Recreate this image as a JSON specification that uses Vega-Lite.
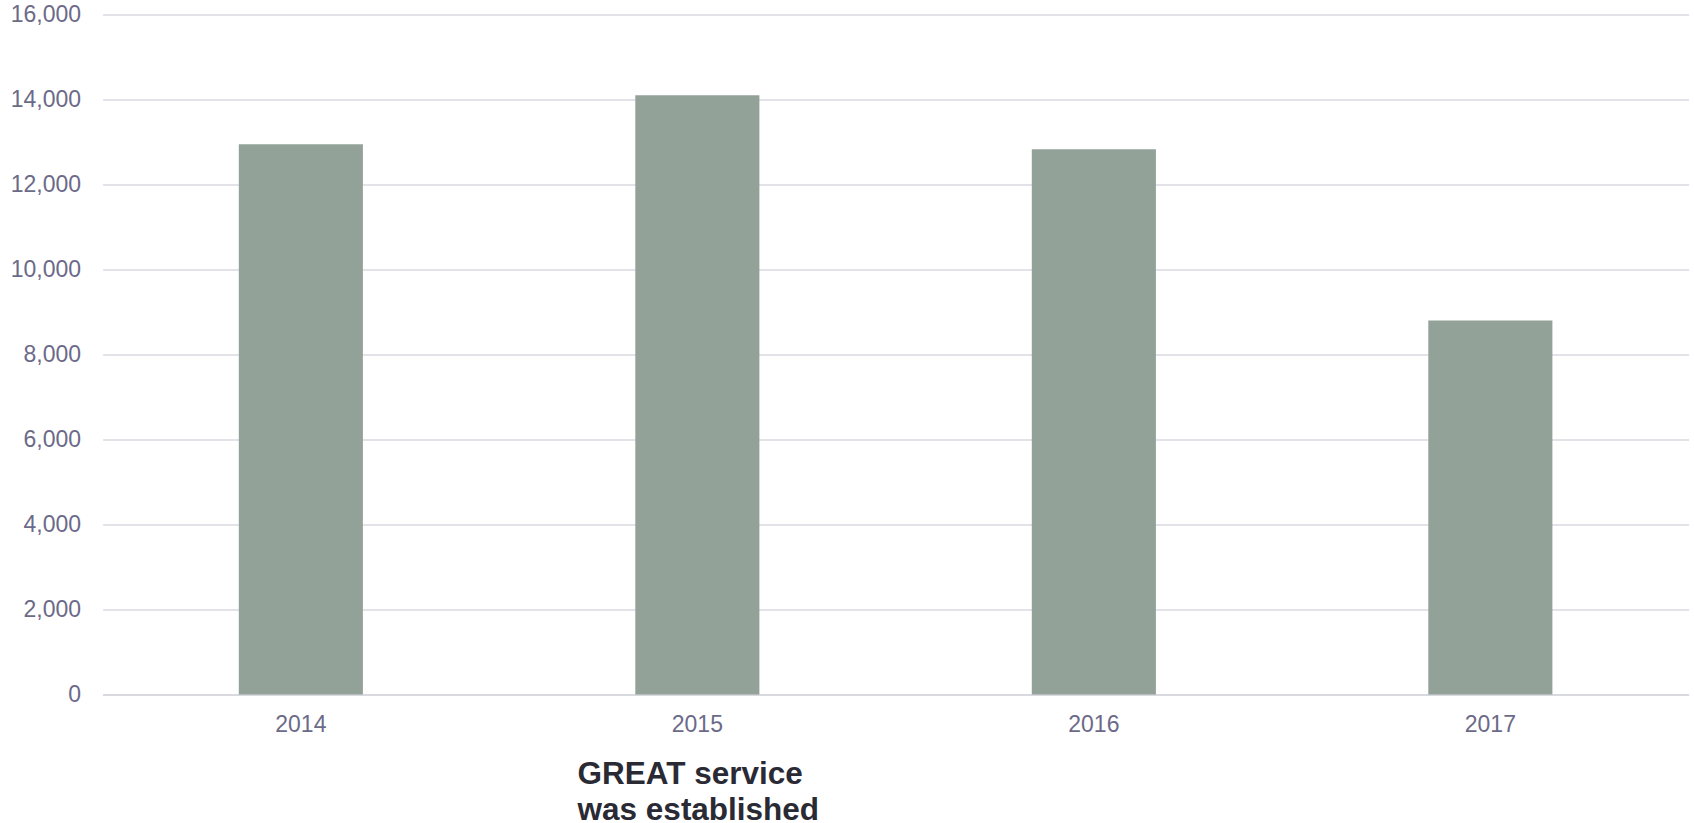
{
  "$schema": "https://vega.github.io/schema/vega-lite/v6.json",
  "autosize": {"type": "none"},
  "padding": {"left": 102.6, "top": 14.5, "right": 5, "bottom": 128},
  "width": 1586,
  "height": 680,
  "background": "#ffffff",
  "config": {
    "view": {"stroke": null},
    "font": "Liberation Sans"
  },
  "data": {
    "values": [
      {"year": "2014", "value": 12950},
      {"year": "2015", "value": 14100},
      {"year": "2016", "value": 12830},
      {"year": "2017", "value": 8800}
    ]
  },
  "mark": {"type": "bar", "color": "#93a298"},
  "encoding": {
    "x": {
      "field": "year",
      "type": "nominal",
      "sort": null,
      "scale": {"paddingInner": 0.687, "paddingOuter": 0.3435},
      "axis": {
        "title": ["GREAT service", "was established"],
        "titleFont": "Liberation Sans",
        "titleFontSize": 31.5,
        "titleFontWeight": "bold",
        "titleColor": "#2a2a35",
        "titleAlign": "left",
        "titleAnchor": "start",
        "titleBaseline": "alphabetic",
        "titleX": 474.5,
        "titleY": 89.5,
        "titleLineHeight": 36,
        "labelAngle": 0,
        "labelFontSize": 23,
        "labelColor": "#6b6a88",
        "labelPadding": 19.5,
        "ticks": false,
        "tickSize": 0,
        "domain": true,
        "domainColor": "#d9d9e0",
        "domainWidth": 2,
        "grid": false
      }
    },
    "y": {
      "field": "value",
      "type": "quantitative",
      "scale": {"domain": [0, 16000], "nice": false},
      "axis": {
        "title": null,
        "values": [0, 2000, 4000, 6000, 8000, 10000, 12000, 14000, 16000],
        "format": ",d",
        "labelFontSize": 23,
        "labelColor": "#6b6a88",
        "labelPadding": 22,
        "ticks": false,
        "tickSize": 0,
        "domain": false,
        "grid": true,
        "gridColor": "#d9d9e0",
        "gridWidth": 1.6
      }
    }
  }
}
